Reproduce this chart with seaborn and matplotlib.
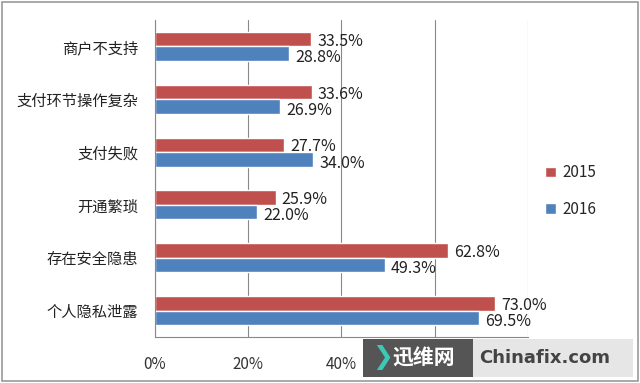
import matplotlib
matplotlib.use("Agg")
import matplotlib.pyplot as plt
from matplotlib.patches import Rectangle
import pandas as pd
import seaborn as sns

categories = ["商户不支持", "支付环节操作复杂", "支付失败", "开通繁琐", "存在安全隐患", "个人隐私泄露"]
years = ["2015", "2016"]
vals_2015 = [33.5, 33.6, 27.7, 25.9, 62.8, 73.0]
vals_2016 = [28.8, 26.9, 34.0, 22.0, 49.3, 69.5]
x_ticks = [0, 20, 40, 60, 80]
# 60% and 80% sit under the watermark in the original, so they are not shown
x_labels = ["0%", "20%", "40%", "", ""]

df = pd.DataFrame({
    "类别": categories * 2,
    "年份": [years[0]] * len(categories) + [years[1]] * len(categories),
    "比例": vals_2015 + vals_2016,
})

sns.set_theme(style="white")
plt.rcParams["font.family"] = ["Noto Sans CJK SC", "DejaVu Sans"]

fig = plt.figure(figsize=(6.4, 3.83), dpi=100)
ax = fig.add_axes([0.242, 0.120, 0.583, 0.828])

sns.barplot(data=df, y="类别", x="比例", hue="年份", orient="h",
            palette=["#C0504D", "#4F81BD"], width=0.55, saturation=1,
            ax=ax, legend=True)

ax.set_xlim(0, 80)
ax.set_ylim(len(categories) - 0.5, -0.5)
ax.set_xticks(x_ticks)
ax.set_xticklabels(x_labels, fontsize=11, color="#333333")
ax.set_xlabel("")
ax.set_ylabel("")
ax.set_yticks(range(len(categories)))
ax.tick_params(axis="y", length=0, labelsize=11, labelcolor="#222222", pad=12)
ax.tick_params(axis="x", length=4, color="#888888", direction="out", pad=10)
ax.set_yticks([i - 0.5 for i in range(len(categories) + 1)], minor=True)
ax.tick_params(axis="y", which="minor", length=4, color="#888888", direction="out")
ax.xaxis.grid(True, color="#888888", linewidth=0.8)
ax.set_axisbelow(True)
for s in ["top", "right"]:
    ax.spines[s].set_visible(False)
for s in ["left", "bottom"]:
    ax.spines[s].set_color("#888888")
    ax.spines[s].set_linewidth(0.8)

# value labels next to each bar
for ci, cont in enumerate(ax.containers):
    for bar in cont:
        w = bar.get_width()
        yc = bar.get_y() + bar.get_height() / 2
        dy = 0.04 if ci == 0 else 0.07
        ax.text(w + 1.3, yc + dy, f"{w:.1f}%", va="center", ha="left",
                fontsize=11.5, color="#222222")

ax.legend(loc="center left", bbox_to_anchor=(1.01, 0.46), frameon=False,
          fontsize=11, handlelength=0.7, handleheight=0.7, labelspacing=1.3,
          handletextpad=0.4)

# outer frame
fig.patches.append(Rectangle((0.003, 0.005), 0.994, 0.99, transform=fig.transFigure,
                             fill=False, edgecolor="#999999", linewidth=1.2))

# watermark
fig.patches.append(Rectangle((363 / 640, 6 / 383), 110 / 640, 38 / 383,
                             transform=fig.transFigure, facecolor="#555555", edgecolor="none"))
fig.patches.append(Rectangle((473 / 640, 6 / 383), 160 / 640, 38 / 383,
                             transform=fig.transFigure, facecolor="#e6e6e6", edgecolor="none"))
fig.text(372 / 640, 25 / 383, "❯", color="#3cc8b4", fontsize=18, va="center",
         fontweight="bold", family=["DejaVu Sans"])
fig.text(392 / 640, 25 / 383, "迅维网", color="white", fontsize=15, va="center", fontweight="bold")
fig.text(479 / 640, 25 / 383, "Chinafix.com", color="#444444", fontsize=13, va="center",
         fontweight="bold", family=["DejaVu Sans"])

fig.savefig("out.png", dpi=100)
